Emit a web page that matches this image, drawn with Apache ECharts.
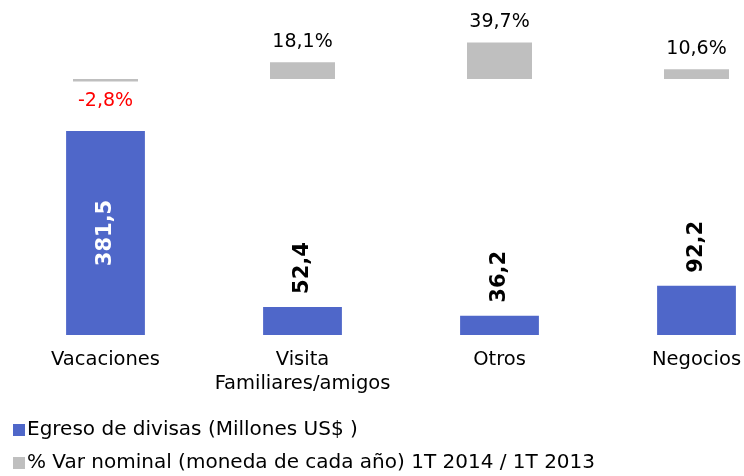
<!DOCTYPE html>
<html>
<head>
<meta charset="utf-8">
<script src="https://cdn.jsdelivr.net/npm/echarts@6/dist/echarts.min.js"></script>
<style>
  html, body { margin: 0; padding: 0; background: #fff; }
  #chart { width: 744px; height: 476px; }
</style>
</head>
<body>
<div id="chart"></div>
<script>
const categories = ['Vacaciones', 'Visita\nFamiliares/amigos', 'Otros', 'Negocios'];
const egreso = [381.5, 52.4, 36.2, 92.2];
const variacion = [-2.8, 18.1, 39.7, 10.6];

const BLUE = '#4f67c9';
const GREY = '#bfbfbf';
const FONT = 'DejaVu Sans';

const fmt = v => v.toFixed(1).replace('.', ',');

const chart = echarts.init(document.getElementById('chart'));

const option = {
  backgroundColor: '#fff',
  animation: false,
  textStyle: { fontFamily: FONT },
  legend: {
    orient: 'vertical',
    left: 13,
    top: 419,
    padding: 0,
    itemGap: 11,
    itemWidth: 12,
    itemHeight: 12,
    icon: 'rect',
    textStyle: { fontFamily: FONT, fontSize: 20, lineHeight: 22, color: '#000', padding: [0, 0, 0, -3] },
    data: ['Egreso de divisas (Millones US$ )', '% Var nominal (moneda de cada año) 1T 2014 / 1T 2013']
  },
  grid: [
    { left: 7, width: 788, top: 33, height: 64.4, outerBoundsMode: 'none' },
    { left: 7, width: 788, top: 121.1, height: 213.9, outerBoundsMode: 'none' }
  ],
  xAxis: [
    {
      gridIndex: 0, type: 'category', data: categories,
      axisLine: { show: false }, axisTick: { show: false }, axisLabel: { show: false }
    },
    {
      gridIndex: 1, type: 'category', data: categories,
      axisLine: { show: false }, axisTick: { show: false },
      axisLabel: { interval: 0, color: '#000', fontSize: 19.5, fontFamily: FONT, margin: 13, lineHeight: 24 }
    }
  ],
  yAxis: [
    { gridIndex: 0, type: 'value', min: -20, max: 50, show: false, splitLine: { show: false } },
    { gridIndex: 1, type: 'value', min: 0, max: 400, show: false, splitLine: { show: false } }
  ],
  series: [
    {
      name: 'Egreso de divisas (Millones US$ )',
      type: 'bar',
      xAxisIndex: 1, yAxisIndex: 1,
      barWidth: '40%',
      itemStyle: { color: BLUE },
      data: egreso.map((v, i) => ({
        value: v,
        label: i === 0
          ? { show: true, position: 'inside', rotate: 90, color: '#fff' }
          : { show: true, position: 'top', rotate: 90, align: 'left', verticalAlign: 'middle', distance: 13, color: '#000' }
      })),
      label: {
        fontFamily: FONT, fontWeight: 'bold', fontSize: 21,
        formatter: p => fmt(p.value)
      }
    },
    {
      name: '% Var nominal (moneda de cada año) 1T 2014 / 1T 2013',
      type: 'bar',
      xAxisIndex: 0, yAxisIndex: 0,
      barWidth: '33%',
      itemStyle: { color: GREY },
      data: variacion.map(v => ({
        value: v,
        label: {
          color: v < 0 ? '#ff0000' : '#000',
          position: v < 0 ? 'bottom' : 'top',
          distance: v < 0 ? 10 : 11
        }
      })),
      label: {
        show: true, fontFamily: FONT, fontSize: 19,
        formatter: p => fmt(p.value) + '%'
      }
    }
  ]
};

chart.setOption(option);
</script>
</body>
</html>
